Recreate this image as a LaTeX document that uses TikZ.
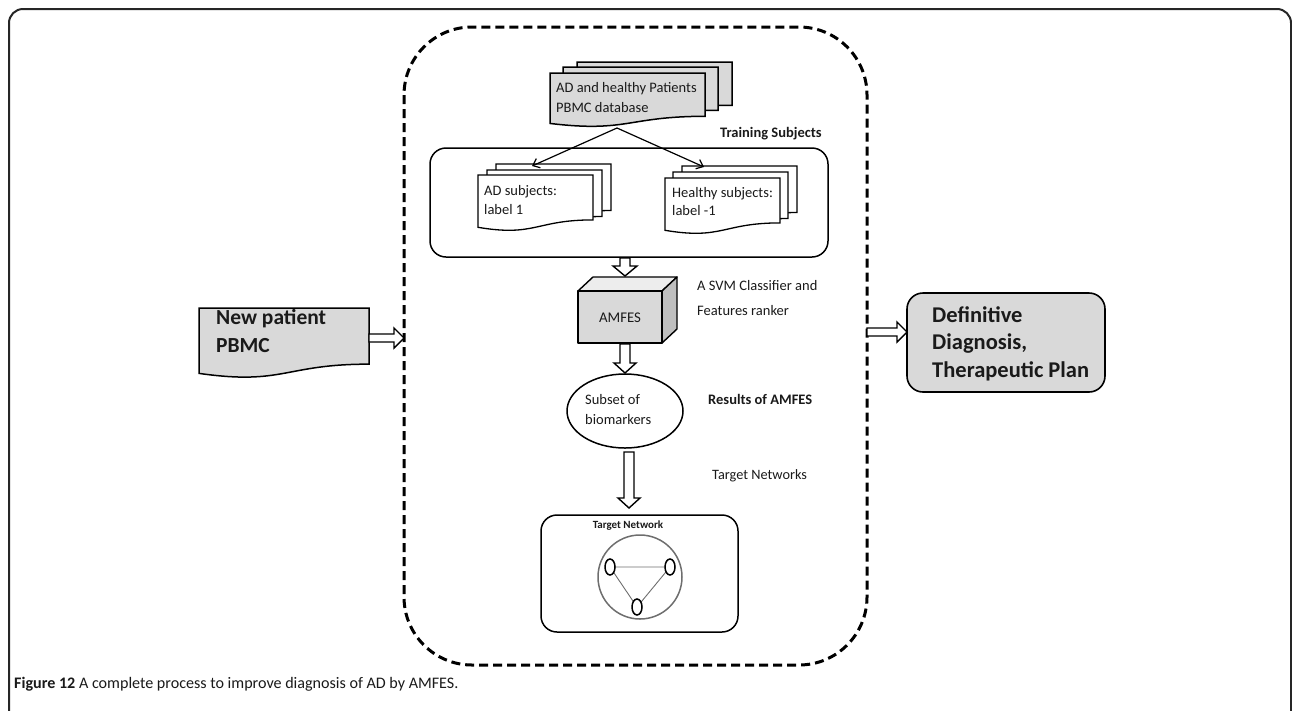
\documentclass[tikz,border=0pt]{standalone}
\usepackage{fontspec}
\setmainfont{Carlito}
\usetikzlibrary{calc,arrows.meta}
\definecolor{docgray}{HTML}{D9D9D9}
\definecolor{topgray}{HTML}{EDEDED}
\definecolor{sidegray}{HTML}{BFBFBF}
\definecolor{netgray}{HTML}{6E6E6E}
\definecolor{ink}{HTML}{1A1A1A}
\definecolor{framec}{HTML}{262626}
\newcommand\fs[1]{\fontsize{#1}{#1}\selectfont}
\newcommand\docshape[5]{%
  \path[#1] (#2,#3) -- (#4,#3) -- (#4,{#3+0.802*(#5-#3)})
    .. controls ({(#2+#4)/2},{#3+0.802*(#5-#3)}) and ({(#2+#4)/2},{#3+1.107*(#5-#3)})
    .. (#2,{#3+0.934*(#5-#3)}) -- cycle;}
% vertical block arrow: start, tip, stem half width, head half width, head length
\newcommand\varrow[5]{%
  \draw[blk] ($(#1)+(-#3,0)$) -- ($(#2)+(-#3,-#5)$) -- ($(#2)+(-#4,-#5)$) -- (#2)
    -- ($(#2)+(#4,-#5)$) -- ($(#2)+(#3,-#5)$) -- ($(#1)+(#3,0)$) -- cycle;}
\newcommand\harrow[5]{%
  \draw[blk] ($(#1)+(0,-#3)$) -- ($(#2)+(-#5,-#3)$) -- ($(#2)+(-#5,-#4)$) -- (#2)
    -- ($(#2)+(-#5,#4)$) -- ($(#2)+(-#5,#3)$) -- ($(#1)+(0,#3)$) -- cycle;}
\tikzset{
  doc/.style={draw=black, line width=1.5pt, fill=docgray},
  docw/.style={draw=black, line width=1.3pt, fill=white},
  blk/.style={draw=black, line width=1.4pt, fill=white, line join=miter},
  lbl/.style={inner sep=0pt, anchor=mid west, text=ink},
  thinarr/.style={draw=black, line width=1.2pt, -{Straight Barb[length=6pt,width=10pt,line width=1.2pt]}},
  roundbox/.style={draw=black, line width=1.5pt, rounded corners=16pt},
}
\begin{document}
\begin{tikzpicture}[x=1pt,y=-1pt]
\useasboundingbox (0,0) rectangle (1292,710);
\begin{scope}
\clip (0,0) rectangle (1292,710);
\draw[framec, line width=2pt, rounded corners=14pt] (9,9) rectangle (1291,780);
\end{scope}
% dashed container
\draw[black, line width=3pt, dash pattern=on 9pt off 5pt, rounded corners=68pt] (404,27) rectangle (867,665);

% database stack
\docshape{doc}{577}{62}{732}{116}
\docshape{doc}{563}{67}{718}{121}
\docshape{doc}{550}{73}{705}{127}
\node[lbl, font=\fs{14.5}] (db1) at (556,90) {AD and healthy Patients};
\node[lbl, font=\fs{14.5}] (db2) at (556,110) {PBMC database};
\coordinate (dbout) at (617,128);

\node[lbl, font=\fs{14.5}\bfseries] (trl) at (720,135) {Training Subjects};
\draw[roundbox] (430,148) rectangle (828,257);

% AD subjects stack
\docshape{docw}{496}{164}{611}{222}
\docshape{docw}{487}{170}{602}{228}
\docshape{docw}{478}{175}{593}{231}
\node[lbl, font=\fs{14.5}] (ad1) at (484,193) {AD subjects:};
\node[lbl, font=\fs{14.5}] (ad2) at (484,212) {label 1};
\coordinate (adin) at (532,166);

% healthy stack
\docshape{docw}{682}{166}{797}{224}
\docshape{docw}{673}{172}{788}{230}
\docshape{docw}{665}{178}{780}{234}
\node[lbl, font=\fs{14.5}] (h1) at (672,195) {Healthy subjects:};
\node[lbl, font=\fs{14.5}] (h2) at (672,213) {label -1};
\coordinate (hin) at (704,167);

\draw[thinarr] (dbout) -- (adin);
\draw[thinarr] (dbout) -- (hin);

% arrow training -> AMFES
\coordinate (tb) at (625,258);
\coordinate (cubetop) at (625,276);
\varrow{tb}{cubetop}{5}{12}{10}

% AMFES cube
\path[draw=black, line width=1.4pt, fill=topgray, line join=round] (578,291) -- (593,277) -- (677,277) -- (662,291) -- cycle;
\path[draw=black, line width=1.4pt, fill=sidegray, line join=round] (662,291) -- (677,277) -- (677,329) -- (662,343) -- cycle;
\path[draw=black, line width=1.4pt, fill=docgray, line join=round] (578,291) rectangle (662,343);
\node[inner sep=0pt, text=ink, font=\fs{14.8}] (amfes) at (620,318) {AMFES};
\node[lbl, font=\fs{14.5}] (svm1) at (697,288) {A SVM Classifier and};
\node[lbl, font=\fs{14.5}] (svm2) at (697,313) {Features ranker};

\coordinate (cubebot) at (625,344);
\coordinate (elltop) at (625,373);
\varrow{cubebot}{elltop}{5}{11}{10}

% ellipse
\draw[black, line width=1.5pt, fill=white] (625,411) ellipse [x radius=58, y radius=37];
\node[lbl, font=\fs{14.5}] (sub1) at (585,402) {Subset of};
\node[lbl, font=\fs{14.5}] (sub2) at (585,422) {biomarkers};
\node[lbl, font=\fs{14.5}\bfseries] (res) at (708,402) {Results of AMFES};

\coordinate (ellbot) at (629,452);
\coordinate (tntop) at (629,508);
\varrow{ellbot}{tntop}{5}{11}{10}
\node[lbl, font=\fs{14.3}] (tnl) at (712,477) {Target Networks};

% target network box
\draw[roundbox] (541,515) rectangle (738,632);
\node[inner sep=0pt, text=ink, font=\fs{11}\bfseries] (tnt) at (628,526) {Target Network};
\draw[netgray, line width=1.5pt] (640,577) circle [radius=42];
\coordinate (n1) at (610,567);
\coordinate (n2) at (670,567);
\coordinate (n3) at (637,607);
\draw[netgray, line width=0.9pt] (n1) -- (n2) -- (n3) -- cycle;
\foreach \n in {n1,n2,n3}
  \draw[black, line width=1.5pt, fill=white] (\n) ellipse [x radius=5, y radius=8];

% new patient
\docshape{doc}{199}{308}{369}{378}
\node[lbl, font=\fs{21.5}\bfseries] (np1) at (216,322) {New patient};
\node[lbl, font=\fs{21.5}\bfseries] (np2) at (216,350) {PBMC};
\coordinate (npout) at (369,338);
\coordinate (boxin) at (404,338);
\harrow{npout}{boxin}{4}{10}{10}

% definitive diagnosis
\draw[black, line width=1.6pt, fill=docgray, rounded corners=16pt] (907,293) rectangle (1105,392);
\node[lbl, font=\fs{22.5}\bfseries] (dd1) at (932,320) {Definitive};
\node[lbl, font=\fs{22.5}\bfseries] (dd2) at (932,347) {Diagnosis,};
\node[lbl, font=\fs{22.5}\bfseries] (dd3) at (932,375) {Therapeutic Plan};
\coordinate (boxout) at (867,332);
\coordinate (ddin) at (907,332);
\harrow{boxout}{ddin}{4}{10}{10}

% caption
\node[lbl, font=\fs{16.1}] (cap) at (14,686) {\textbf{Figure 12} A complete process to improve diagnosis of AD by AMFES.};
\end{tikzpicture}
\end{document}
